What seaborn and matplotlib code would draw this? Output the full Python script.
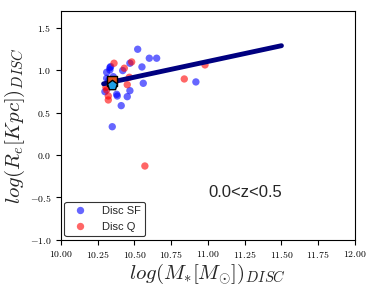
import numpy as np
import pandas as pd
import matplotlib
matplotlib.use("Agg")
import matplotlib.pyplot as plt
import seaborn as sns

sf_mass = [10.522, 10.601, 10.651, 10.469, 10.338, 10.311, 10.333, 10.420, 10.551, 10.311,
           10.356, 10.560, 10.918, 10.299, 10.379, 10.383, 10.469, 10.451, 10.410, 10.349,
           10.333, 10.325]
sf_re = [1.248, 1.142, 1.142, 1.083, 1.043, 0.976, 1.004, 0.996, 1.039, 0.905,
         0.924, 0.846, 0.862, 0.747, 0.716, 0.696, 0.759, 0.688, 0.582, 0.333,
         1.031, 0.880]
q_mass = [10.361, 10.481, 10.431, 10.465, 10.451, 10.306, 10.322, 10.322, 10.839, 10.980,
          10.571, 10.311]
q_re = [1.083, 1.098, 1.024, 0.917, 0.830, 0.799, 0.696, 0.649, 0.897, 1.063,
        -0.131, 0.767]

fit_x = [10.29, 11.50]
fit_y = [0.84, 1.29]
mean_q = (10.349, 0.877)
mean_sf = (10.349, 0.830)

df = pd.DataFrame({
    "mass": sf_mass + q_mass,
    "re": sf_re + q_re,
    "group": ["Disc SF"] * len(sf_mass) + ["Disc Q"] * len(q_mass),
})

sns.set_style("ticks")
plt.rcParams["font.family"] = "cmr10"
plt.rcParams["mathtext.fontset"] = "cm"
plt.rcParams["axes.formatter.use_mathtext"] = True

fig = plt.figure(figsize=(3.74, 2.89), dpi=100)
ax = fig.add_axes([0.163, 0.171, 0.786, 0.791])

sns.scatterplot(data=df, x="mass", y="re", hue="group",
                palette={"Disc SF": "blue", "Disc Q": "red"},
                s=28, alpha=0.6, linewidth=0, ax=ax, zorder=2)
sns.lineplot(x=fit_x, y=fit_y, color="#000080", linewidth=3.5, ax=ax, zorder=3)
ax.scatter([mean_q[0]], [mean_q[1]], marker="s", s=60, color="#e0501a",
           edgecolor="black", linewidth=1.0, zorder=4)
ax.scatter([mean_sf[0]], [mean_sf[1]], marker="p", s=55, color="#1e9fe6",
           edgecolor="black", linewidth=1.0, zorder=5)

ax.set_xlim(10, 12)
ax.set_ylim(-1.0, 1.7)
ax.set_xticks(np.arange(10.0, 12.01, 0.25))
ax.set_yticks([-1.0, -0.5, 0.0, 0.5, 1.0, 1.5])
ax.tick_params(labelsize=7, length=3.5, width=0.8, colors="black")
for sp in ax.spines.values():
    sp.set_color("black")
    sp.set_linewidth(0.8)

ax.set_xlabel(r"$log(M_{*}[M_{\odot}])_{DISC}$", fontsize=15, labelpad=1)
ax.set_ylabel(r"$log(R_{e}[Kpc])_{DISC}$", fontsize=15, labelpad=2)

ax.text(0.628, 0.205, "0.0<z<0.5", transform=ax.transAxes, ha="center",
        va="center", fontsize=12, family="Liberation Sans")

handles, labels = ax.get_legend_handles_labels()
leg = ax.legend(handles=handles, labels=labels, loc="lower left",
                prop={"family": "Liberation Sans", "size": 8},
                frameon=True, edgecolor="black", fancybox=True,
                borderaxespad=0.3, handletextpad=1.0, markerscale=1.0)
leg.get_frame().set_linewidth(0.8)

fig.savefig("out.png", dpi=100)
